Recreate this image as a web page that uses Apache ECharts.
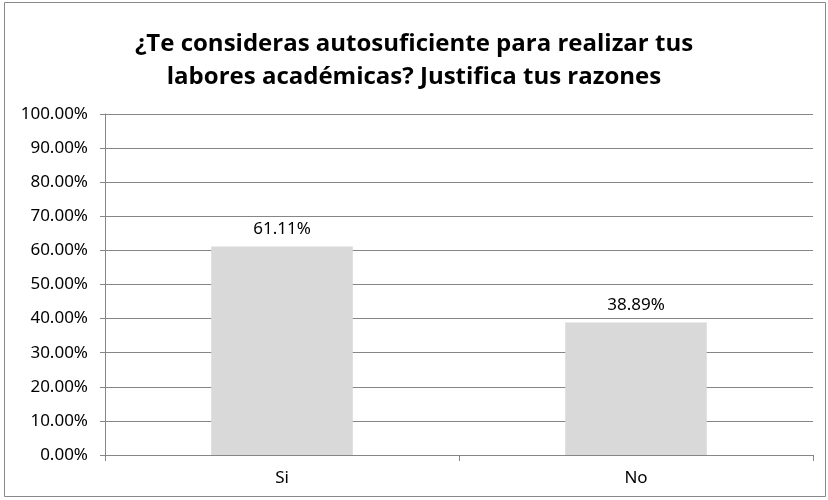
<!DOCTYPE html>
<html><head><meta charset="utf-8">
<script src="https://cdn.jsdelivr.net/npm/echarts@6/dist/echarts.min.js"></script>
<style>html,body{margin:0;padding:0;background:#fff}#c{width:828px;height:500px}</style>
</head><body><div id="c"></div>
<script>
const titleLines = ["¿Te consideras autosuficiente para realizar tus", "labores académicas? Justifica tus razones"];
const categories = ["Si", "No"];
const values = [61.11, 38.89];
const yMin = 0, yMax = 100, yStep = 10;

const chart = echarts.init(document.getElementById('c'), null, {renderer: 'canvas'});
const lblFont = "'Noto Sans', 'Open Sans', sans-serif";
chart.setOption({
  animation: false,
  backgroundColor: '#fff',
  title: {
    text: titleLines.join('\n'),
    left: 'center', top: 23,
    textStyle: {fontFamily: "'Open Sans', sans-serif", fontWeight: 'bold', fontSize: 24, lineHeight: 33, color: '#000'}
  },
  graphic: [{type: 'rect', shape: {x: 4.5, y: 2.5, width: 821, height: 494}, style: {fill: 'none', stroke: '#888', lineWidth: 1}, silent: true}],
  grid: {left: 105, right: 15, top: 114, bottom: 45, containLabel: false},
  xAxis: {
    type: 'category', data: categories,
    axisLine: {lineStyle: {color: '#868686', width: 1}},
    axisTick: {show: true, length: 6, lineStyle: {color: '#868686'}},
    axisLabel: {fontFamily: lblFont, fontSize: 17, color: '#000', margin: 15}
  },
  yAxis: {
    type: 'value', min: yMin, max: yMax, interval: yStep,
    axisLine: {show: true, lineStyle: {color: '#868686', width: 1}},
    axisTick: {show: true, length: 5, lineStyle: {color: '#868686'}},
    splitLine: {lineStyle: {color: '#868686', width: 1}},
    axisLabel: {fontFamily: lblFont, fontSize: 17, color: '#000', margin: 17, formatter: v => v.toFixed(2) + '%'}
  },
  series: [{
    type: 'bar', data: values, barWidth: '40%',
    itemStyle: {color: '#d9d9d9'},
    label: {show: true, position: 'top', distance: 9, fontFamily: lblFont, fontSize: 17, color: '#000', formatter: p => p.value.toFixed(2) + '%'}
  }]
});
</script></body></html>
